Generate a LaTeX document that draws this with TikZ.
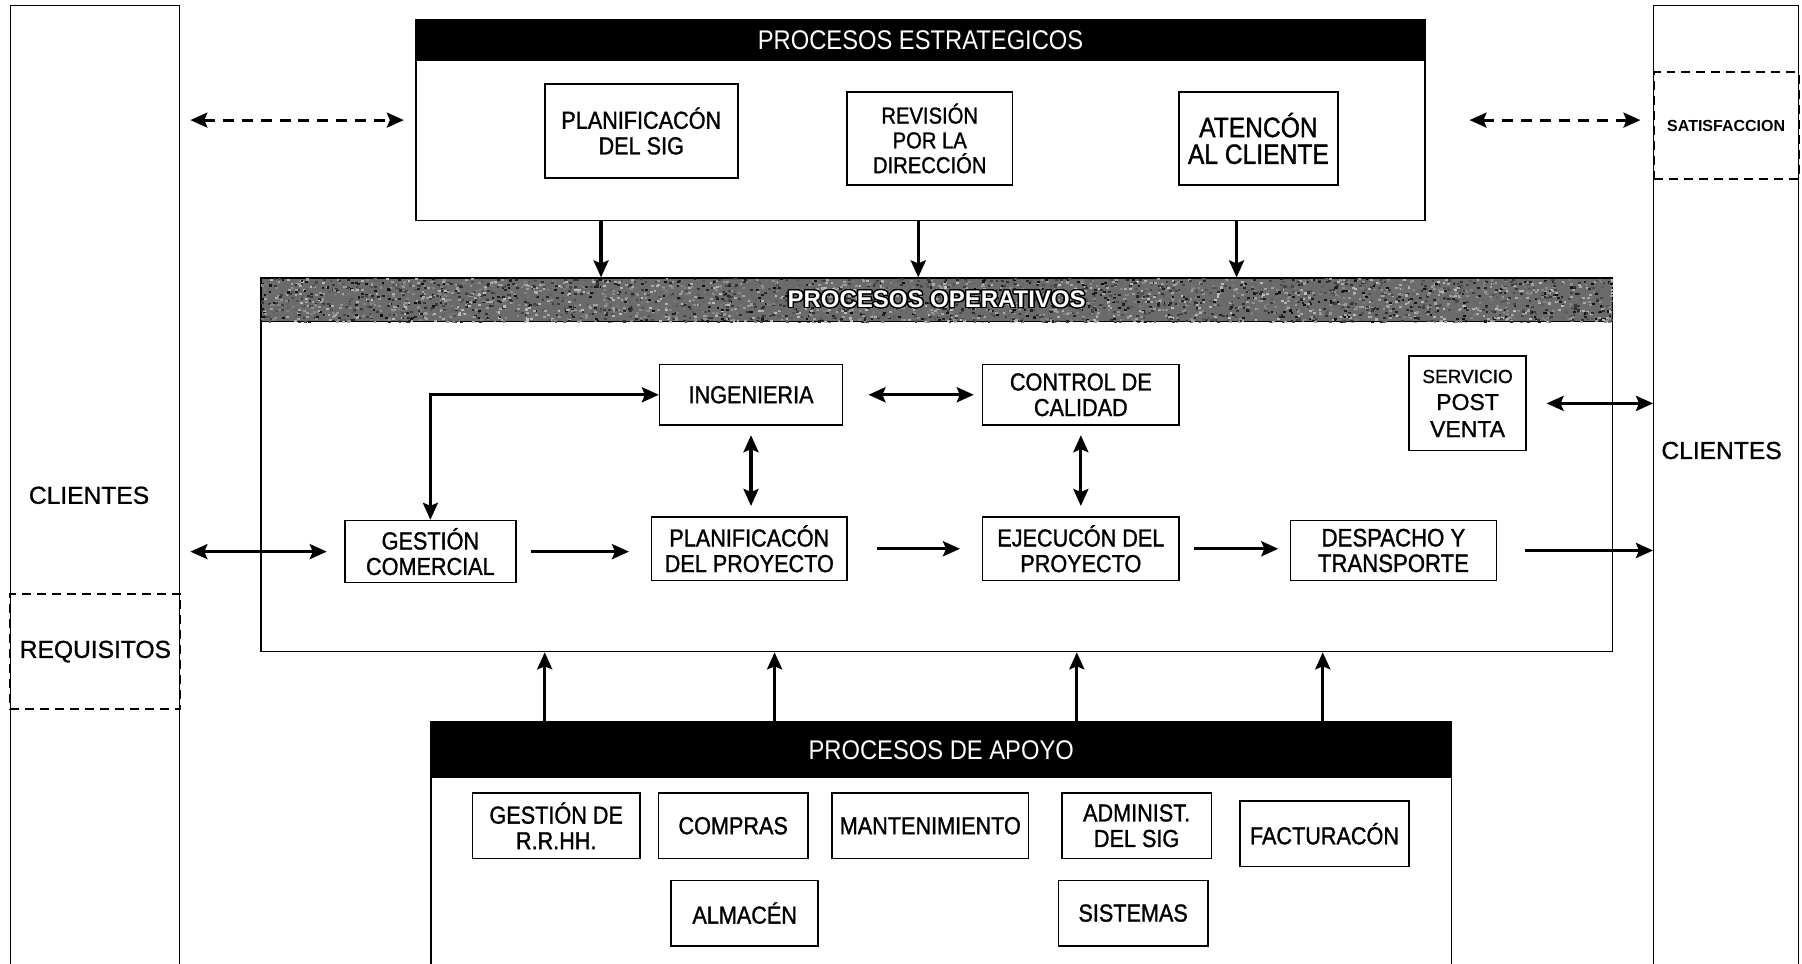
\documentclass[tikz,border=0pt]{standalone}
\usepackage{fontspec}
\setmainfont{Liberation Sans}
\newfontfamily\narrowsans[FakeStretch=0.88]{Liberation Sans}
\newfontfamily\narrowheavy[FakeStretch=0.88,FakeBold=1.2]{Liberation Sans}
\newfontfamily\heavysans[FakeBold=1]{Liberation Sans}
\usepackage[copies]{contour}
\usetikzlibrary{arrows.meta}

\begin{document}
\begin{tikzpicture}[x=0.575pt,y=-0.575pt,
  >={Stealth[length=8.5pt,width=7.5pt,inset=1.5pt]},
  sz/.style 2 args={minimum width=#1*0.575pt, minimum height=#2*0.575pt},
  procbox/.style={draw, line width=0.8pt, align=center, inner sep=0pt, fill=white,
    font=\narrowheavy\fontsize{12.3}{12.8}\selectfont},
  frame/.style={draw, line width=0.7pt, inner sep=0pt},
  band/.style={inner sep=0pt, text=white, font=\narrowsans\fontsize{13.5}{14}\selectfont},
  dbox/.style={draw, line width=1pt, dash pattern=on 4.5pt off 3pt, inner sep=0pt, align=center},
  flow/.style={line width=1.6pt, ->},
  twoway/.style={line width=1.6pt, <->},
  dashflow/.style={line width=1.4pt, dash pattern=on 5.5pt off 4pt, <->},
  lbl/.style={inner sep=0pt, font=\heavysans\fontsize{12.3}{13}\selectfont}
]
\useasboundingbox (0,0) rectangle (1568,838);

% customer columns (open towards the bottom)
\node[frame, sz={147}{855}] (colL) at (82.5,432.5) {};
\node[frame, sz={126}{855}] (colR) at (1502,432.5) {};
\node[lbl] (cliL) at (77.5,431) {CLIENTES};
\node[lbl] (cliR) at (1498,392) {CLIENTES};
\node[dbox, sz={148}{100}, font=\heavysans\fontsize{12.3}{13}\selectfont] (req) at (83,567) {REQUISITOS};
\node[dbox, sz={126}{93}, font=\bfseries\fontsize{8}{9}\selectfont] (sat) at (1502,109.5) {SATISFACCION};

% strategic processes
\node[frame, sz={878}{175}] (estr) at (801,104.5) {};
\node[band, fill=black, sz={878}{36}] (estrh) at (801,35) {PROCESOS ESTRATEGICOS};
\node[procbox, sz={168}{82}] (ps1) at (558,114) {PLANIFICACÓN\\DEL SIG};
\node[procbox, sz={144}{81}, font=\narrowheavy\fontsize{11.5}{12.4}\selectfont] (ps2) at (809,120.5) {REVISIÓN\\POR LA\\DIRECCIÓN};
\node[procbox, sz={138}{81}, font=\narrowheavy\fontsize{14}{13.4}\selectfont] (ps3) at (1095,120.5) {ATENCÓN\\AL CLIENTE};

% operative processes
\node[frame, sz={1176}{325}] (oper) at (815,404.5) {};
\node[frame, fill=black!58, sz={1176}{38}] (oph) at (815,261) {};
\begin{scope}
  \clip (oph.south west) rectangle (oph.north east);
  \pgfmathsetseed{17}
  \foreach \i in {1,...,3600}{
    \pgfmathsetmacro\rx{227+1176*rnd}
    \pgfmathsetmacro\ry{242+38*rnd}
    \pgfmathsetmacro\gv{int(25+70*rnd)}
    \fill[black!\gv] (\rx,\ry) rectangle ++(2.4,1.8);
  }
\end{scope}
\node[inner sep=0pt, font=\bfseries\fontsize{12}{13}\selectfont] (opt) at (oph.center)
  {\contourlength{0.7pt}\textcolor{white}{\contour{black}{PROCESOS OPERATIVOS}}};

\node[procbox, sz={159}{53}] (ing) at (653.5,343.5) {INGENIERIA};
\node[procbox, sz={171}{53}] (cc) at (940.5,343.5) {CONTROL DE\\CALIDAD};
\node[procbox, sz={102}{82}, font=\heavysans\fontsize{11.5}{13.5}\selectfont] (sv) at (1277,351)
  {{\fontsize{9.5}{13.5}\selectfont SERVICIO}\\POST\\VENTA};
\node[procbox, sz={149}{54}] (gc) at (374.5,480) {GESTIÓN\\COMERCIAL};
\node[procbox, sz={170}{55}] (pp) at (652,477.5) {PLANIFICACÓN\\DEL PROYECTO};
\node[procbox, sz={171}{55}] (ej) at (940.5,477.5) {EJECUCÓN DEL\\PROYECTO};
\node[procbox, sz={179}{52}, font=\narrowheavy\fontsize{12.6}{12.8}\selectfont] (dt) at (1212.5,479) {DESPACHO Y\\TRANSPORTE};

% support processes (open towards the bottom)
\node[frame, sz={888}{232}] (apoyo) at (819,744) {};
\node[band, fill=black, sz={888}{49}] (aph) at (819,652.5) {PROCESOS DE APOYO};
\node[procbox, sz={146}{57}] (rh) at (484,718.5) {GESTIÓN DE\\R.R.HH.};
\node[procbox, sz={130}{57}] (co) at (638,718.5) {COMPRAS};
\node[procbox, sz={171}{57}] (ma) at (809.5,718.5) {MANTENIMIENTO};
\node[procbox, sz={130}{57}] (ad) at (989,718.5) {ADMINIST.\\DEL SIG};
\node[procbox, sz={147}{57}] (fa) at (1152.5,725.5) {FACTURACÓN};
\node[procbox, sz={128}{57}] (al) at (648,794.5) {ALMACÉN};
\node[procbox, sz={130}{57}] (si) at (986,794.5) {SISTEMAS};

% x positions of the vertical links
\coordinate (v1) at (523,0);
\coordinate (v2) at (799,0);
\coordinate (v3) at (1076,0);
\coordinate (w1) at (474,0);
\coordinate (w2) at (674,0);
\coordinate (w3) at (937,0);
\coordinate (w4) at (1151,0);

% strategic <-> customers
\draw[dashflow, shorten <=5.2pt, shorten >=5.75pt] (estr.west -| colL.east) -- (estr.west);
\draw[dashflow, shorten <=21.9pt, shorten >=6.3pt] (estr.east) -- (estr.east -| colR.west);

% strategic -> operative
\draw[flow] (estr.south -| v1) -- (oper.north -| v1);
\draw[flow] (estr.south -| v2) -- (oper.north -| v2);
\draw[flow] (estr.south -| v3) -- (oper.north -| v3);

% support -> operative
\draw[flow] (apoyo.north -| w1) -- (oper.south -| w1);
\draw[flow] (apoyo.north -| w2) -- (oper.south -| w2);
\draw[flow] (apoyo.north -| w3) -- (oper.south -| w3);
\draw[flow] (apoyo.north -| w4) -- (oper.south -| w4);

% main operative chain
\draw[twoway, shorten <=5.2pt, shorten >=8.6pt] (gc.west -| colL.east) -- (gc.west);
\draw[flow, shorten <=6.9pt, shorten >=10.9pt] (gc.east) -- (gc.east -| pp.west);
\draw[flow, shorten <=14.4pt, shorten >=10.9pt] (pp.east) -- (ej.west);
\draw[flow, shorten <=6.9pt, shorten >=5.75pt] (ej.east) -- (ej.east -| dt.west);
\draw[flow, shorten <=13.8pt] (dt.east) -- (dt.east -| colR.west);
\draw[twoway, shorten <=9.8pt] (sv.east) -- (sv.east -| colR.west);

% engineering and quality links
\draw[twoway, shorten <=12.65pt, shorten >=4pt] (ing.east) -- (cc.west);
\draw[twoway, shorten <=4.6pt, shorten >=5.2pt] (ing.south) -- (ing.south |- pp.north);
\draw[twoway, shorten <=4.6pt, shorten >=5.2pt] (cc.south) -- (cc.south |- ej.north);
\draw[twoway] (ing.west) -| (gc.north);

\end{tikzpicture}
\end{document}
